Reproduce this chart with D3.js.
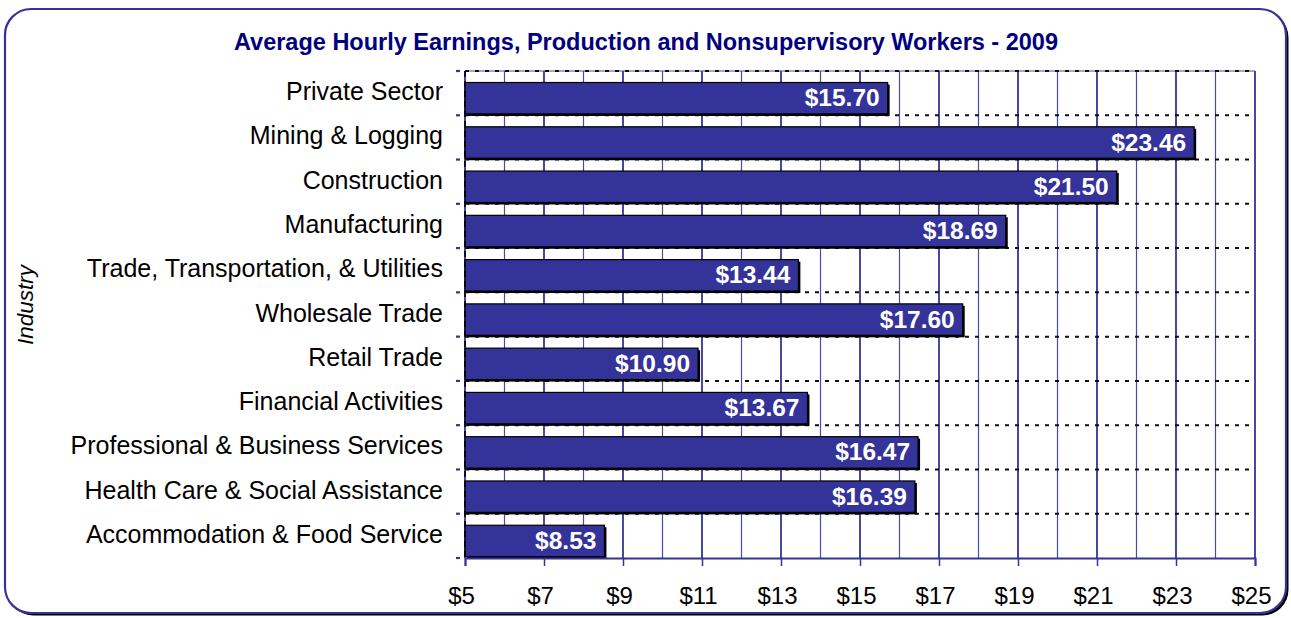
<!DOCTYPE html>
<html><head><meta charset="utf-8">
<script src="https://cdn.jsdelivr.net/npm/d3@7"></script>
<style>body{margin:0;background:#fff}svg{display:block}text{font-family:"Liberation Sans",Arial,sans-serif}</style>
</head><body><svg id="c" width="1291" height="618"></svg>
<script>
const categories = ["Private Sector","Mining & Logging","Construction","Manufacturing","Trade, Transportation, & Utilities","Wholesale Trade","Retail Trade","Financial Activities","Professional & Business Services","Health Care & Social Assistance","Accommodation & Food Service"];
const values = [15.70,23.46,21.50,18.69,13.44,17.60,10.90,13.67,16.47,16.39,8.53];
const tickValues = [5,7,9,11,13,15,17,19,21,23,25];
const gridValues = [5,6,7,8,9,10,11,12,13,14,15,16,17,18,19,20,21,22,23,24,25];
const title = "Average Hourly Earnings, Production and Nonsupervisory Workers - 2009";
const yTitle = "Industry";

const svg = d3.select("#c");
const L = 465, R = 1255, T = 71, B = 558;
const navy = "#333399";
const FF = '"Liberation Sans",Arial,sans-serif';

// frame shadow + border
svg.append("rect").attr("x",7.5).attr("y",11.5).attr("width",1281).attr("height",604).attr("rx",26).attr("fill","#000");
svg.append("rect").attr("x",5).attr("y",9).attr("width",1281).attr("height",604).attr("rx",26).attr("fill","#fff").attr("stroke",navy).attr("stroke-width",2.2);

const x = d3.scaleLinear().domain([5,25]).range([L,R]);
const y = d3.scaleBand().domain(categories).range([T,B]).paddingInner(0).paddingOuter(0);
const bw = y.bandwidth();

// vertical gridlines
svg.append("g").selectAll("line").data(gridValues).join("line")
  .attr("x1",d=>x(d)).attr("x2",d=>x(d)).attr("y1",T).attr("y2",B)
  .attr("stroke",d=>tickValues.includes(d)?"#1a1a8a":"#4a4aa8").attr("stroke-width",d=>tickValues.includes(d)?1.6:1.2);

// top border line
svg.append("line").attr("x1",L).attr("x2",R).attr("y1",T).attr("y2",T).attr("stroke","#4a4aa8").attr("stroke-width",1);

// dotted horizontal lines at category boundaries
const bounds = categories.map(c=>y(c));
svg.append("g").selectAll("line").data(bounds).join("line")
  .attr("x1",L).attr("x2",R).attr("y1",d=>d).attr("y2",d=>d)
  .attr("stroke","#111").attr("stroke-width",2).attr("stroke-dasharray","4,6");

// left axis tick marks
svg.append("g").selectAll("line").data(bounds.concat([B])).join("line")
  .attr("x1",L-9).attr("x2",L-5).attr("y1",d=>d).attr("y2",d=>d)
  .attr("stroke",navy).attr("stroke-width",2.2);

// bars
const bars = svg.append("g");
const by = d => y(d) + bw*0.26;
const bh = bw*0.71;
bars.selectAll("rect.sh").data(categories).join("rect").attr("class","sh")
  .attr("x",x(5)+2).attr("y",d=>by(d)+2).attr("width",(d,i)=>x(values[i])-x(5)).attr("height",bh).attr("fill","#000");
bars.selectAll("rect.b").data(categories).join("rect").attr("class","b")
  .attr("x",x(5)).attr("y",d=>by(d)).attr("width",(d,i)=>x(values[i])-x(5)).attr("height",bh)
  .attr("fill",navy).attr("stroke","#000").attr("stroke-width",1.2);

// bar labels
bars.selectAll("text").data(categories).join("text")
  .attr("x",(d,i)=>x(values[i])-8).attr("y",d=>by(d)+bh/2+8)
  .attr("text-anchor","end").attr("fill","#fff").attr("font-weight","bold").attr("font-size","24.5px")
  .text((d,i)=>"$"+values[i].toFixed(2));

// left axis dashed line
svg.append("line").attr("x1",L).attr("x2",L).attr("y1",T).attr("y2",B).attr("stroke","#000").attr("stroke-width",1.6).attr("stroke-dasharray","6,4");

// bottom axis
const xAxis = d3.axisBottom(x).tickValues(tickValues).tickSize(8).tickFormat(d=>"$"+d);
const gx = svg.append("g").attr("transform",`translate(0,${B})`).call(xAxis);
gx.select(".domain").attr("stroke",navy).attr("stroke-width",2);
gx.selectAll(".tick line").attr("stroke",navy).attr("stroke-width",1.5);
gx.selectAll(".tick text").attr("font-size","24px").attr("fill","#000").attr("dy","0").attr("y",46).attr("x",-4).style("font-family",FF);

// category labels
svg.append("g").selectAll("text").data(categories).join("text")
  .attr("x",443).attr("y",d=>y(d)+bw/2+7).attr("text-anchor","end").attr("font-size","25px").attr("fill","#000").text(d=>d);

// title
svg.append("text").attr("x",646).attr("y",50).attr("text-anchor","middle").attr("font-weight","bold").attr("font-size","23.5px").attr("fill","#000080").text(title);

// y title
svg.append("text").attr("transform","translate(33,305) rotate(-90)").attr("text-anchor","middle").attr("font-style","italic").attr("font-size","22.5px").attr("fill","#000").text(yTitle);
</script></body></html>
